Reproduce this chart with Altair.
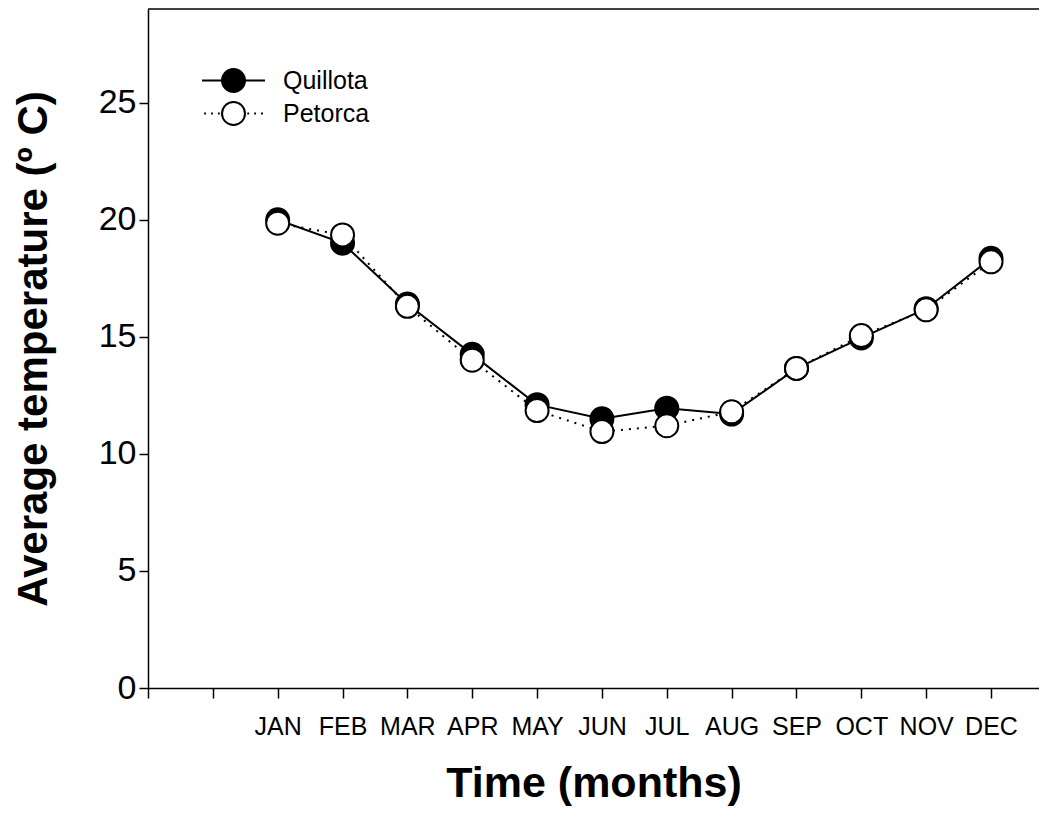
import json
import altair as alt
import pandas as pd

# ---- data ----
months = ["JAN", "FEB", "MAR", "APR", "MAY", "JUN", "JUL", "AUG", "SEP", "OCT", "NOV", "DEC"]
month_num = list(range(1, 13))
quillota = [20.0, 19.0, 16.4, 14.25, 12.1, 11.5, 11.95, 11.7, 13.65, 14.95, 16.2, 18.35]
petorca = [19.85, 19.35, 16.3, 14.0, 11.85, 10.95, 11.2, 11.8, 13.65, 15.05, 16.15, 18.2]
series_names = ["Quillota", "Petorca"]
y_ticks = [0, 5, 10, 15, 20, 25]
x_ticks = list(range(-1, 13))
x_domain = [-1, 12.74]
y_domain = [0, 29]

df = pd.DataFrame({
    "m": month_num * 2,
    "t": quillota + petorca,
    "s": [series_names[0]] * 12 + [series_names[1]] * 12,
})

FONT = "Liberation Sans"
label_expr = f"datum.value >= 1 ? {json.dumps(months)}[datum.value - 1] : ''"

x = alt.X(
    "m:Q",
    scale=alt.Scale(domain=x_domain, nice=False, zero=False),
    axis=alt.Axis(
        values=x_ticks, labelExpr=label_expr, title="Time (months)", grid=False,
        labelFlush=False, labelOverlap=False, labelFont=FONT, labelFontSize=25,
        labelColor="black", labelPadding=16, tickSize=10, tickColor="black", tickWidth=1.5,
        domainColor="black", domainWidth=1.5, titleFont=FONT, titleFontSize=43,
        titleFontWeight="bold", titleColor="black", titlePadding=23,
    ),
)
y = alt.Y(
    "t:Q",
    scale=alt.Scale(domain=y_domain, nice=False, zero=True),
    axis=alt.Axis(
        values=y_ticks, title="Average temperature (º C)", grid=False,
        labelFont=FONT, labelFontSize=34, labelColor="black", labelPadding=3,
        tickSize=9, tickColor="black", tickWidth=1.5, domainColor="black", domainWidth=1.5,
        titleFont=FONT, titleFontSize=42, titleFontWeight="bold", titleColor="black",
        titlePadding=43, labelFlush=False,
    ),
)

base = alt.Chart(df)
q = base.transform_filter(alt.datum.s == series_names[0])
p = base.transform_filter(alt.datum.s == series_names[1])

q_line = q.mark_line(color="black", strokeWidth=2).encode(x=x, y=y)
p_line = p.mark_line(color="black", strokeWidth=2, strokeDash=[2, 6]).encode(x=x, y=y)
q_pts = q.mark_point(shape="circle", filled=True, fill="black", stroke="black",
                     strokeWidth=2, size=529, opacity=1).encode(x=x, y=y)
p_pts = p.mark_point(shape="circle", filled=True, fill="white", stroke="black",
                     strokeWidth=2, size=529, opacity=1).encode(x=x, y=y)

# legend symbols: line + circle (solid) / dotted line + circle
circle_path = "M-1,0A1,1 0 1,0 1,0A1,1 0 1,0 -1,0Z"
path_q = "M-2.74,0H-1M1,0H2.74" + circle_path
path_p = ("M-2.55,0h0.16M-1.95,0h0.16M-1.35,0h0.16"
          "M1.2,0h0.16M1.8,0h0.16M2.4,0h0.16" + circle_path)

leg_def = alt.Legend(
    orient="none", legendX=73, legendY=59, symbolSize=529, symbolStrokeColor="black",
    symbolStrokeWidth=2, labelFont=FONT, labelFontSize=25, labelColor="black",
    labelOffset=37, rowPadding=2, padding=0,
)
leg = base.transform_filter("false").mark_point(filled=True, opacity=1, strokeWidth=2).encode(
    x=x, y=y,
    fill=alt.Fill("s:N", title=None,
                  scale=alt.Scale(domain=series_names, range=["black", "white"]),
                  legend=leg_def),
    stroke=alt.Stroke("s:N", title=None,
                      scale=alt.Scale(domain=series_names, range=["black", "black"]),
                      legend=leg_def),
    shape=alt.Shape("s:N", title=None,
                    scale=alt.Scale(domain=series_names, range=[path_q, path_p]),
                    legend=leg_def),
)

top = alt.Chart(pd.DataFrame({"a": [0]})).mark_rule(color="black", strokeWidth=1.5).encode(
    x=alt.datum(x_domain[0]), x2=alt.datum(x_domain[1]), y=alt.datum(y_domain[1])
)

chart = alt.layer(top, q_line, p_line, q_pts, p_pts, leg).properties(
    width=891, height=679,
    padding={"left": 140, "top": 1, "right": 0, "bottom": 125},
    autosize=alt.AutoSizeParams(type="none"),
    background="white",
).configure_view(strokeWidth=0)

chart.save("out.html", embed_options={"renderer": "svg", "actions": False})
